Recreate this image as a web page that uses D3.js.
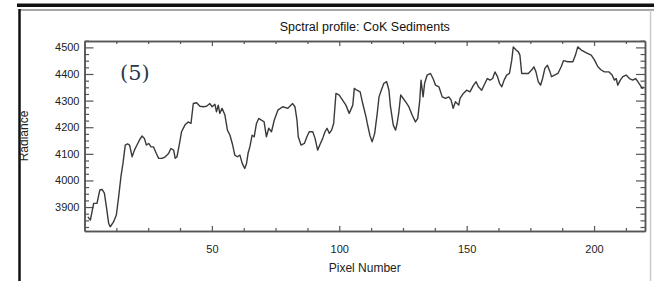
<!DOCTYPE html>
<html>
<head>
<meta charset="utf-8">
<script src="https://cdn.jsdelivr.net/npm/d3@7"></script>
<style>
  body { margin: 0; background: #fff; }
  .axis text { font-family: "Liberation Sans", Arial, sans-serif; font-size: 11px; fill: #222; }
  .axis path, .axis line { stroke: #555; }
</style>
</head>
<body>
<div id="spectral-chart"></div>
<script>
// Data (pixel number, radiance)
const pixelNumber = [
  1.3,2.3,3.6,4.9,6.0,6.9,7.8,8.6,9.5,10.1,11.4,12.5,13.4,14.3,15.1,16.0,16.9,17.7,18.7,19.6,
  20.6,21.6,22.6,23.5,24.3,25.2,26.1,27.1,28.2,29.1,30.4,31.7,33.0,33.9,35.0,35.6,36.3,37.3,
  38.1,39.4,40.7,41.8,42.7,44.0,45.3,46.6,47.9,49.2,50.1,51.2,51.8,52.5,53.1,54.0,55.1,56.1,
  57.1,58.0,59.0,60.0,61.0,61.9,62.9,63.6,64.2,64.9,65.8,66.6,67.5,68.4,69.4,70.5,71.4,72.3,73.4,
  74.5,75.9,77.8,79.8,81.7,82.6,83.4,83.9,85.0,86.3,87.3,88.2,89.6,90.5,91.5,92.6,93.5,94.4,
  95.2,96.1,97.0,97.8,98.7,100.0,101.3,102.6,103.9,105.3,105.9,106.9,108.2,109.2,110.5,
  111.0,112.0,112.9,113.9,114.9,115.6,116.5,117.5,118.6,119.5,120.1,121.2,122.1,122.7,123.4,
  124.1,125.1,126.0,127.3,128.6,129.9,130.8,131.6,132.1,132.9,133.5,134.5,135.8,136.8,137.8,
  139.1,140.4,141.7,143.0,143.9,144.7,145.6,146.9,
  147.4,148.7,150.0,151.3,152.7,153.7,154.6,155.9,157.2,158.1,159.2,160.2,161.1,162.1,162.9,
  163.8,164.7,165.7,166.8,167.7,168.3,169.4,170.3,170.9,171.6,172.9,174.2,175.5,176.4,177.2,
  178.1,179.0,179.8,180.7,181.7,182.7,183.3,
  184.5,185.8,187.1,188.0,189.7,191.7,192.7,193.6,195.0,196.3,197.6,198.9,200.2,201.5,202.8,
  204.1,205.8,207.1,208.0,208.7,209.3,210.3,211.3,212.6,213.9,215.2,216.3,217.2,218.1,218.9,219.4
];
const radiance = [
  3863,3851,3914,3914,3964,3966,3952,3901,3838,3826,3844,3870,3938,4014,4064,4133,4137,4133,4089,4114,
  4133,4152,4167,4158,4133,4139,4126,4126,4101,4083,4083,4089,4101,4120,4114,4083,4089,4139,
  4183,4208,4220,4214,4289,4292,4279,4277,4279,4289,4277,4286,4258,4283,4252,4271,4246,4189,
  4170,4139,4095,4089,4095,4064,4045,4064,4102,4126,4170,4164,4214,4233,4227,4220,4164,4196,4183,
  4227,4264,4277,4271,4289,4277,4227,4164,4133,4139,4164,4183,4183,4158,4114,4139,4158,4183,
  4196,4177,4189,4214,4327,4321,4302,4283,4252,4283,4346,4339,4333,4289,4239,
  4214,4170,4145,4177,4252,4314,4339,4365,4371,4339,4277,4208,4189,4214,4258,
  4321,4308,4296,4277,4246,4220,4233,4302,4377,4314,4365,4396,4402,4383,4358,
  4352,4314,4308,4314,4302,4271,4296,4283,
  4308,4327,4339,4333,4358,4371,4352,4339,4365,4383,4377,4383,4408,4390,4365,
  4352,4377,4396,4402,4452,4502,4490,4483,4471,4402,4402,4402,4415,4427,4408,
  4371,4358,4383,4421,4433,4408,4390,
  4396,4402,4427,4450,4446,4446,4471,4502,4490,4483,4477,4471,4452,4427,4415,
  4408,4408,4396,4377,4383,4358,4377,4390,4396,4383,4377,4383,4371,4358,4346,4352
];

// Ticks and texts
const xMajorTicks = [50, 100, 150, 200];
const xMinorTicks = [12.5, 25, 37.5, 62.5, 75, 87.5, 112.5, 125, 137.5, 162.5, 175, 187.5, 212.5];
const yMajorTicks = [3900, 4000, 4100, 4200, 4300, 4400, 4500];
const yMinorTicks = [3825, 3850, 3875, 3925, 3950, 3975, 4025, 4050, 4075, 4125, 4150, 4175,
  4225, 4250, 4275, 4325, 4350, 4375, 4425, 4450, 4475, 4525];
const chartTitle = "Spctral profile: CoK Sediments";
const xLabel = "Pixel Number";
const yLabel = "Radiance";
const panelTag = "(5)";

const drawChart = () => {

  // ------ Create the drawing area ------- //
  const width = 654;
  const height = 281;
  const plot = {left: 84.5, right: 645, top: 41, bottom: 231};

  const svg = d3.select("#spectral-chart")
    .append("svg")
      .attr("width", width)
      .attr("height", height);

  // Frame around the figure (scanned page)
  svg.append("rect")
    .attr("x", 17).attr("y", 3.5)
    .attr("width", width - 17).attr("height", 3.5)
    .attr("fill", "#111");
  svg.append("line")
    .attr("x1", 19).attr("x2", width)
    .attr("y1", 10).attr("y2", 10)
    .attr("stroke", "#888").attr("stroke-width", 1.5);
  svg.append("line")
    .attr("x1", 19.5).attr("x2", 19.5)
    .attr("y1", 9).attr("y2", height)
    .attr("stroke", "#111").attr("stroke-width", 2.5);
  svg.append("line")
    .attr("x1", 650.5).attr("x2", 650.5)
    .attr("y1", 10).attr("y2", height)
    .attr("stroke", "#ccc").attr("stroke-width", 1.5);

  // ------ Create scales and axes ------- //
  const xScale = d3.scaleLinear()
    .domain([0, 220])
    .range([plot.left, plot.right]);
  const yScale = d3.scaleLinear()
    .domain([3810, 4524])
    .range([plot.bottom, plot.top]);

  const addAxis = (axis, tx, ty) => svg.append("g")
    .attr("class", "axis")
    .attr("transform", `translate(${tx}, ${ty})`)
    .call(axis);

  // bottom axis with labels
  addAxis(d3.axisBottom(xScale).tickValues(xMajorTicks).tickSize(-5).tickSizeOuter(0).tickPadding(14).tickFormat(d3.format("d")), 0, plot.bottom);
  addAxis(d3.axisBottom(xScale).tickValues(xMinorTicks).tickSize(-3).tickSizeOuter(0).tickFormat(""), 0, plot.bottom);
  // top axis, ticks only
  addAxis(d3.axisTop(xScale).tickValues(xMajorTicks).tickSize(-5).tickSizeOuter(0).tickFormat(""), 0, plot.top);
  addAxis(d3.axisTop(xScale).tickValues(xMinorTicks).tickSize(-3).tickSizeOuter(0).tickFormat(""), 0, plot.top);
  // left axis with labels
  addAxis(d3.axisLeft(yScale).tickValues(yMajorTicks).tickSize(-9).tickSizeOuter(0).tickPadding(5).tickFormat(d3.format("d")), plot.left, 0);
  addAxis(d3.axisLeft(yScale).tickValues(yMinorTicks).tickSize(-4.5).tickSizeOuter(0).tickFormat(""), plot.left, 0);
  // right axis, ticks only
  addAxis(d3.axisRight(yScale).tickValues(yMajorTicks).tickSize(-9).tickSizeOuter(0).tickFormat(""), plot.right, 0);
  addAxis(d3.axisRight(yScale).tickValues(yMinorTicks).tickSize(-4.5).tickSizeOuter(0).tickFormat(""), plot.right, 0);

  svg.selectAll(".axis path").attr("stroke-width", 1.5);
  svg.selectAll(".axis line").attr("stroke-width", 1.2);

  // ------ Create the drawings ------- //
  const data = pixelNumber.map((p, i) => ({pixel: p, value: radiance[i]}));
  const lineGenerator = d3.line()
    .x(d => xScale(d.pixel))
    .y(d => yScale(d.value));
  svg.append("path")
    .attr("d", lineGenerator(data))
    .attr("fill", "none")
    .attr("stroke", "#3a3a3a")
    .attr("stroke-width", 1.4)
    .attr("stroke-linejoin", "round");

  // ------ Texts ------- //
  const sans = "'Liberation Sans', Arial, sans-serif";
  svg.append("text")
    .text(chartTitle)
    .attr("x", (plot.left + plot.right) / 2)
    .attr("y", 31)
    .attr("text-anchor", "middle")
    .attr("font-family", sans)
    .attr("font-size", "12.5px")
    .attr("fill", "#111");

  svg.append("text")
    .text(xLabel)
    .attr("x", (plot.left + plot.right) / 2)
    .attr("y", 272)
    .attr("text-anchor", "middle")
    .attr("font-family", sans)
    .attr("font-size", "12px")
    .attr("fill", "#222");

  svg.append("text")
    .text(yLabel)
    .attr("transform", `translate(28, ${(plot.top + plot.bottom) / 2}) rotate(-90)`)
    .attr("text-anchor", "middle")
    .attr("font-family", sans)
    .attr("font-size", "12px")
    .attr("fill", "#222");

  svg.append("text")
    .text(panelTag)
    .attr("x", 120)
    .attr("y", 80)
    .attr("font-family", "'DejaVu Serif', serif")
    .attr("font-size", "21px")
    .attr("fill", "#2c3a4a");
};

drawChart();
</script>
</body>
</html>
